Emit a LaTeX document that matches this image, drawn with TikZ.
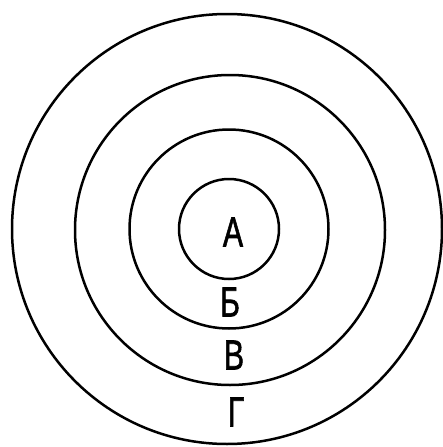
\documentclass[tikz,border=0pt]{standalone}
\usepackage{fontspec}
\setmainfont{Liberation Sans}
\newfontfamily\labfont[FakeBold=1.6]{Liberation Sans}
\begin{document}
\begin{tikzpicture}[x=1pt,y=-1pt,
  ring/.style={draw, line width=2.5pt, circle, inner sep=0pt},
  lab/.style={font=\labfont\fontsize{42}{42}\selectfont, inner sep=0pt, xscale=0.72}]
\useasboundingbox (0,0) rectangle (443,447);
\node[ring, minimum size=430pt] (g) at (227,229) {};
\node[ring, minimum size=310pt] (v) at (230,230) {};
\node[ring, minimum size=199pt] (b) at (229,229) {};
\node[ring, minimum size=100pt] (a) at (229,229) {};
\node[lab] (la) at (233,232) {А};
\node[lab] (lb) at (230,302) {Б};
\node[lab] (lv) at (234,355) {В};
\node[lab] (lg) at (236,412) {Г};
\end{tikzpicture}
\end{document}
